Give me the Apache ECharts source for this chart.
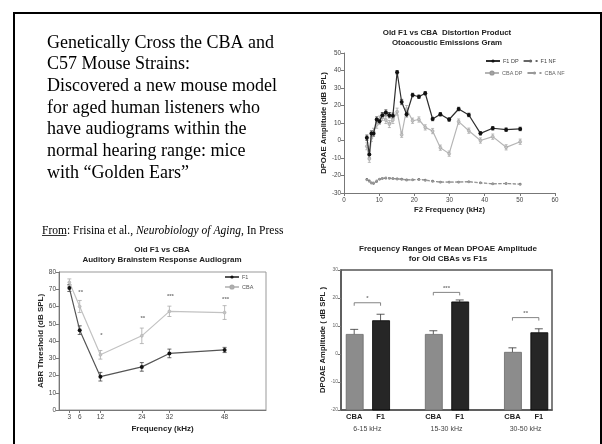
<!DOCTYPE html>
<html><head><meta charset="utf-8">
<script src="https://cdn.jsdelivr.net/npm/echarts@6/dist/echarts.min.js"></script>
<style>html,body{margin:0;padding:0;background:#fff}#c{width:602px;height:444px}</style>
</head><body><div id="c"></div>
<script>
// ---------- Chart 1: DPOAE gram ----------
const f2Freq  = [6.5,7.2,7.8,8.4,9.3,10.1,10.9,11.9,12.9,13.9,15.1,16.4,17.8,19.5,21.3,23.1,25.2,27.4,29.9,32.6,35.5,38.8,42.3,46.1,50.1];
const f1DP    = [1.6,-8,4,4,12,11,14.5,16,14.5,14.2,39,22,15,26,25,27,12.3,15,12,18,14.6,4.1,7,6.2,6.6];
const f1DPErr = [1.5,2,1.5,1.5,1.5,1.5,1.5,1.5,1.5,1.5,1,1.5,1.5,1,1,1,1,1,1,1,1,1,1,1,1];
const cbaDP   = [-3.3,-10.5,1.5,5,9,12,13.5,11.7,9.4,11.7,16.5,3.3,18,11.3,12,7.5,5.4,-4.1,-7.5,10.8,5.6,0,2.2,-3.9,-0.7];
const cbaDPErr= [2,2,2,2,2,2,2,2,2,2,2,1.5,2,1.5,1.5,1.5,1.5,1.5,1.5,1.5,1.5,1.5,1.5,1.5,1.5];
const f1NF    = [-22.2,-23,-24.1,-24.5,-23.4,-22.2,-21.7,-21.5,-21.5,-21.7,-21.9,-22,-22.4,-22.4,-22.2,-22.5,-23.2,-23.7,-23.7,-23.7,-23.5,-24.1,-24.7,-24.5,-24.9];
const cbaNF   = [-22.6,-23.4,-24.4,-24.2,-23,-22,-21.5,-21.3,-21.6,-21.9,-22.1,-22.3,-22.7,-22.6,-22.4,-22.8,-23.4,-23.9,-23.9,-23.8,-23.7,-24.3,-24.9,-24.7,-25.1];

// ---------- Chart 2: ABR audiogram ----------
const abrFreq   = [3,6,12,24,32,48];
const abrF1     = [70.7,46.3,19.3,25,32.8,34.8];
const abrF1Err  = [2,2.5,2.5,2.5,2.5,1.5];
const abrCBA    = [74,60,32,43,57.2,56.5];
const abrCBAErr = [2,3.5,2.5,4.5,3,4];
const abrSigX   = [6,12,24,32,48];
const abrSigY   = [68,43,53,66,64];
const abrSigTxt = ['**','*','**','***','***'];

// ---------- Chart 3: bar chart ----------
const barCats   = ['CBA','F1','','CBA','F1','','CBA','F1'];
const barIdx    = [0,1,3,4,6,7];
const barVals   = [7.0,11.9,7.0,18.6,0.6,7.6];
const barErr    = [1.8,2.3,1.3,0.7,1.6,1.4];
const barGroups = ['6-15 kHz','15-30 kHz','30-50 kHz'];
const groupStart= [0,3,6];
const bracketY  = [18.3,22,13];
const bracketTxt= ['*','***','**'];

const textLines = ['Genetically Cross the CBA and','C57 Mouse Strains:','Discovered a new mouse model','for aged human listeners who','have audiograms within the','normal hearing range: mice','with \u201cGolden Ears\u201d'];

const FONT = '"Liberation Sans", Arial, sans-serif';
const SERIF = '"Liberation Serif", "Times New Roman", serif';

function pairs(xs, ys){ return xs.map((x,i)=>[x, ys[i]]); }
function errData(xs, ys, es){ return xs.map((x,i)=>[x, ys[i]-es[i], ys[i]+es[i]]); }
function errRender(capW, color, bottomCap){
  return function(params, api){
    const x = api.value(0), lo = api.value(1), hi = api.value(2);
    const a = api.coord([x, lo]), b = api.coord([x, hi]);
    const st = {stroke: color, lineWidth: 0.8};
    const ch = [
      {type:'line', shape:{x1:a[0],y1:a[1],x2:b[0],y2:b[1]}, style:st},
      {type:'line', shape:{x1:b[0]-capW,y1:b[1],x2:b[0]+capW,y2:b[1]}, style:st}
    ];
    if (bottomCap) ch.push({type:'line', shape:{x1:a[0]-capW,y1:a[1],x2:a[0]+capW,y2:a[1]}, style:st});
    return {type:'group', children:ch};
  };
}
function axisStyle(extra){
  return Object.assign({
    axisLine:{show:true,onZero:false,lineStyle:{color:'#777',width:1}},
    axisTick:{show:true,inside:false,length:3,lineStyle:{color:'#777'}},
    axisLabel:{fontSize:6.3,color:'#444',margin:3,fontFamily:FONT},
    splitLine:{show:false},
    nameLocation:'middle',
    nameTextStyle:{fontSize:7.7,fontWeight:'bold',color:'#222',fontFamily:FONT}
  }, extra);
}

const chart = echarts.init(document.getElementById('c'));
const titleStyle = (x,y,t,fs)=>({type:'text', x:x, y:y, style:{text:t, font:'bold '+(fs||7)+'px '+FONT, fill:'#222', align:'center', verticalAlign:'top', lineHeight:10}});

const option = {
  animation:false,
  backgroundColor:'#fff',
  grid:[
    {left:344, top:53, width:211, height:140, containLabel:false, outerBoundsMode:'none'},
    {left:59, top:272, width:207, height:138, containLabel:false, outerBoundsMode:'none', show:true, borderColor:'#999', borderWidth:1},
    {left:341, top:270, width:211, height:140, containLabel:false, outerBoundsMode:'none', show:true, borderColor:'#555', borderWidth:1.5}
  ],
  xAxis:[
    axisStyle({gridIndex:0, type:'value', min:0, max:60, interval:10, name:'F2 Frequency (kHz)', nameGap:13,
      axisLabel:{fontSize:6.3,color:'#444',margin:4,fontFamily:FONT}}),
    axisStyle({gridIndex:1, type:'value', min:0, max:60, name:'Frequency (kHz)', nameGap:15,
      nameTextStyle:{fontSize:8,fontWeight:'bold',color:'#222',fontFamily:FONT},
      axisLabel:{fontSize:6.5,color:'#444',margin:4,fontFamily:FONT,customValues:abrFreq},
      axisTick:{show:true,length:3,lineStyle:{color:'#777'},customValues:abrFreq}}),
    axisStyle({gridIndex:2, type:'category', data:barCats, boundaryGap:true,
      axisTick:{show:false},
      axisLine:{show:true,onZero:false,lineStyle:{color:'#555',width:1.5}},
      axisLabel:{interval:0,fontSize:7.5,fontWeight:'bold',color:'#222',margin:3,fontFamily:FONT}})
  ],
  yAxis:[
    axisStyle({gridIndex:0, type:'value', min:-30, max:50, interval:10, name:'DPOAE Amplitude (dB SPL)', nameGap:14}),
    axisStyle({gridIndex:1, type:'value', min:0, max:80, interval:10, name:'ABR Threshold (dB SPL)', nameGap:14,
      nameTextStyle:{fontSize:8,fontWeight:'bold',color:'#222',fontFamily:FONT},
      axisLabel:{fontSize:6.5,color:'#444',margin:3,fontFamily:FONT}}),
    axisStyle({gridIndex:2, type:'value', min:-20, max:30, interval:10, name:'DPOAE Amplitude ( dB SPL )', nameGap:14,
      axisLine:{show:true,onZero:false,lineStyle:{color:'#555',width:1.5}},
      axisLabel:{fontSize:5,color:'#666',margin:3,fontFamily:FONT}})
  ],
  legend:[
    {data:['F1 DP','F1 NF'], left:485, top:58, itemWidth:14, itemHeight:4, itemGap:4, padding:0,
      textStyle:{fontSize:5.5,color:'#444',fontFamily:FONT,padding:[0,0,0,-2]}},
    {data:['CBA DP','CBA NF'], left:484, top:70, itemWidth:14, itemHeight:4, itemGap:4, padding:0,
      textStyle:{fontSize:5.5,color:'#666',fontFamily:FONT,padding:[0,0,0,-2]}},
    {data:['F1','CBA'], left:224, top:274, orient:'vertical', itemWidth:14, itemHeight:4, itemGap:4, padding:0,
      textStyle:{fontSize:5.5,color:'#555',fontFamily:FONT,padding:[0,0,0,-2]}}
  ],
  series:[
    // chart 1
    {type:'custom', name:'f1dpErr', xAxisIndex:0, yAxisIndex:0, renderItem:errRender(1.5,'#333',true), data:errData(f2Freq,f1DP,f1DPErr), encode:{x:0,y:[1,2]}, z:1},
    {type:'custom', name:'cbadpErr', xAxisIndex:0, yAxisIndex:0, renderItem:errRender(1.5,'#aaa',true), data:errData(f2Freq,cbaDP,cbaDPErr), encode:{x:0,y:[1,2]}, z:1},
    {type:'line', name:'CBA DP', xAxisIndex:0, yAxisIndex:0, data:pairs(f2Freq,cbaDP), symbol:'circle', symbolSize:3,
      lineStyle:{color:'#b5b5b5',width:1.2}, itemStyle:{color:'#c4c4c4',borderColor:'#999',borderWidth:0.5}, z:2},
    {type:'line', name:'F1 DP', xAxisIndex:0, yAxisIndex:0, data:pairs(f2Freq,f1DP), symbol:'circle', symbolSize:4,
      lineStyle:{color:'#2e2e2e',width:1.2}, itemStyle:{color:'#111'}, z:3},
    {type:'line', name:'F1 NF', xAxisIndex:0, yAxisIndex:0, data:pairs(f2Freq,f1NF), symbol:'circle', symbolSize:2.5,
      lineStyle:{color:'#666',width:0.8,type:'dashed'}, itemStyle:{color:'#666'}, z:2},
    {type:'line', name:'CBA NF', xAxisIndex:0, yAxisIndex:0, data:pairs(f2Freq,cbaNF), symbol:'circle', symbolSize:2.5,
      lineStyle:{color:'#999',width:0.8,type:'dashed'}, itemStyle:{color:'#999'}, z:2},
    // chart 2
    {type:'custom', name:'abrF1Err', xAxisIndex:1, yAxisIndex:1, renderItem:errRender(2,'#444',true), data:errData(abrFreq,abrF1,abrF1Err), encode:{x:0,y:[1,2]}, z:1},
    {type:'custom', name:'abrCBAErr', xAxisIndex:1, yAxisIndex:1, renderItem:errRender(2,'#aaa',true), data:errData(abrFreq,abrCBA,abrCBAErr), encode:{x:0,y:[1,2]}, z:1},
    {type:'line', name:'CBA', xAxisIndex:1, yAxisIndex:1, data:pairs(abrFreq,abrCBA), symbol:'circle', symbolSize:3,
      lineStyle:{color:'#c2c2c2',width:1.2}, itemStyle:{color:'#c4c4c4',borderColor:'#aaa',borderWidth:0.5}, z:2},
    {type:'line', name:'F1', xAxisIndex:1, yAxisIndex:1, data:pairs(abrFreq,abrF1), symbol:'circle', symbolSize:4,
      lineStyle:{color:'#555',width:1.2}, itemStyle:{color:'#111'}, z:3},
    {type:'custom', name:'abrSig', xAxisIndex:1, yAxisIndex:1, data:pairs(abrSigX,abrSigY), encode:{x:0,y:1},
      renderItem:function(params, api){
        const p = api.coord([api.value(0), api.value(1)]);
        return {type:'text', x:p[0]+1, y:p[1], style:{text:abrSigTxt[params.dataIndex], font:'bold 6px '+FONT, fill:'#777', align:'center', verticalAlign:'middle'}};
      }},
    // chart 3
    {type:'custom', name:'bars', xAxisIndex:2, yAxisIndex:2, data:pairs(barIdx,barVals), encode:{x:0,y:1},
      renderItem:function(params, api){
        const i = api.value(0), v = api.value(1);
        const base = api.coord([i, -20]), top = api.coord([i, v]);
        const dark = params.dataIndex % 2 === 1;
        return {type:'rect', shape:{x:top[0]-8, y:top[1], width:17, height:base[1]-top[1]},
          style:{fill: dark ? '#262626' : '#8c8c8c', stroke: dark ? '#000' : '#6a6a6a', lineWidth:0.8}};
      }, z:2},
    {type:'custom', name:'barErr', xAxisIndex:2, yAxisIndex:2, renderItem:errRender(4,'#333',false), data:errData(barIdx,barVals.map((v,i)=>v+barErr[i]/2),barErr.map(e=>e/2)), encode:{x:0,y:[1,2]}, z:1},
    {type:'custom', name:'brackets', xAxisIndex:2, yAxisIndex:2, data:pairs(groupStart,bracketY), encode:{x:0,y:1},
      renderItem:function(params, api){
        const a = api.value(0), y = api.value(1);
        const p0 = api.coord([a, y]), p1 = api.coord([a+1, y]);
        const st = {stroke:'#666', lineWidth:0.8, fill:'none'};
        return {type:'group', children:[
          {type:'polyline', shape:{points:[[p0[0],p0[1]+3],[p0[0],p0[1]],[p1[0],p1[1]],[p1[0],p1[1]+3]]}, style:st},
          {type:'text', x:(p0[0]+p1[0])/2, y:p0[1]-4, style:{text:bracketTxt[params.dataIndex], font:'bold 6px '+FONT, fill:'#777', align:'center', verticalAlign:'middle'}}
        ]};
      }, z:3},
    {type:'custom', name:'groupLabels', xAxisIndex:2, yAxisIndex:2, data:groupStart.map(g=>[g,-20]), encode:{x:0,y:1}, clip:false,
      renderItem:function(params, api){
        const a = api.value(0);
        const p0 = api.coord([a, -20]), p1 = api.coord([a+1, -20]);
        return {type:'text', x:(p0[0]+p1[0])/2, y:p0[1]+19, style:{text:barGroups[params.dataIndex], font:'7px '+FONT, fill:'#444', align:'center', verticalAlign:'middle'}};
      }}
  ],
  graphic:[
    {type:'rect', shape:{x:14, y:13, width:587, height:440}, style:{fill:'none', stroke:'#000', lineWidth:2}, silent:true},
    {type:'text', x:47, y:32, style:{text:textLines.join('\n'), font:'18px '+SERIF, fill:'#000', lineHeight:21.7, verticalAlign:'top'}},
    {type:'text', x:42, y:231, style:{text:'{u|From}: Frisina et al., {i|Neurobiology of Aging}, In Press', font:'11.5px '+SERIF, fill:'#000', verticalAlign:'middle',
      rich:{u:{font:'11.5px '+SERIF, fill:'#000'}, i:{font:'italic 11.5px '+SERIF, fill:'#000'}}}},
    {type:'line', shape:{x1:42, y1:235.5, x2:66.5, y2:235.5}, style:{stroke:'#000', lineWidth:0.8}},
    titleStyle(447, 28, 'Old F1 vs CBA  Distortion Product\nOtoacoustic Emissions Gram', 7.9),
    titleStyle(162, 245, 'Old F1 vs CBA\nAuditory Brainstem Response Audiogram', 8),
    titleStyle(448, 244, 'Frequency Ranges of Mean DPOAE Amplitude\nfor Old CBAs vs F1s', 8.1)
  ]
};
chart.setOption(option);
</script>
</body></html>
